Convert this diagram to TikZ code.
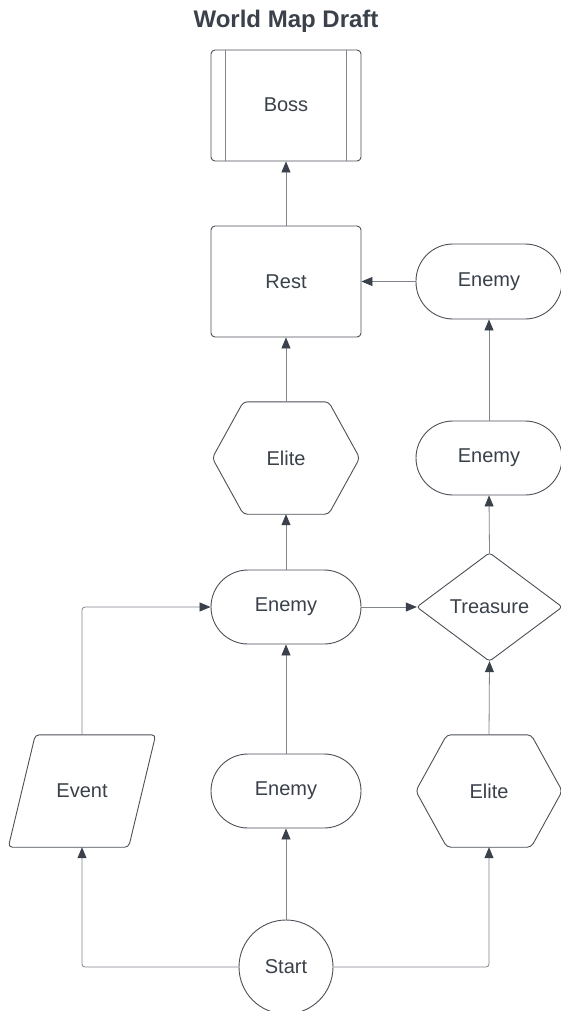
\documentclass[tikz,border=0pt]{standalone}
\usepackage{fontspec}
\setmainfont{Liberation Sans}
\usetikzlibrary{arrows.meta}
\definecolor{txt}{HTML}{3A414A}
\definecolor{bord}{HTML}{4B5058}
\definecolor{conn}{HTML}{80858C}
\begin{document}
\begin{tikzpicture}[x=1pt,y=-1pt,
  lbl/.style={inner sep=0pt, font=\fontsize{20}{24}\selectfont, text=txt},
  procbox/.style={lbl, draw=bord, line width=0.9pt, rounded corners=4pt, minimum width=150pt, minimum height=111pt},
  stadium/.style={lbl, draw=bord, line width=0.9pt, rounded corners=37pt, minimum height=74pt},
  hidden/.style={lbl},
  outline/.style={draw=bord, line width=0.9pt, rounded corners=4pt},
  arr/.style={draw=conn, line width=0.8pt, rounded corners=3pt, -{Triangle[length=11pt,width=9pt,color=txt]}}]
\useasboundingbox (0,0) rectangle (561,1011);
\fill[white] (0,0) rectangle (561,1011);

\node[font=\bfseries\fontsize{24}{28}\selectfont, text=txt] (title) at (286,21) {World Map Draft};

% Boss
\node[procbox] (boss) at (286,105.5) {\raisebox{2pt}{Boss}};
\draw[draw=conn, line width=0.6pt] ([xshift=15pt]boss.north west) -- ([xshift=15pt]boss.south west);
\draw[draw=conn, line width=0.6pt] ([xshift=-15pt]boss.north east) -- ([xshift=-15pt]boss.south east);

% Rest
\node[procbox] (rest) at (286,281.5) {Rest};

% Enemies
\node[stadium, minimum width=146pt, minimum height=75pt] (enemyTR) at (489,281.5) {Enemy};
\node[stadium, minimum width=146pt] (enemyRM) at (489,458) {Enemy};
\node[stadium, minimum width=150pt] (enemyM) at (286,607) {Enemy};
\node[stadium, minimum width=150pt] (enemyB) at (286,791) {Enemy};

% Elite middle (hexagon)
\node[hidden, minimum width=147pt, minimum height=112pt] (eliteM) at (286,458) {Elite};
\draw[outline] ([xshift=31pt]eliteM.north west) -- ([xshift=-31pt]eliteM.north east) -- (eliteM.east) -- ([xshift=-31pt]eliteM.south east) -- ([xshift=31pt]eliteM.south west) -- (eliteM.west) -- cycle;

% Elite bottom (hexagon)
\node[hidden, minimum width=146pt, minimum height=112pt] (eliteB) at (489,791) {Elite};
\draw[outline] ([xshift=31pt]eliteB.north west) -- ([xshift=-31pt]eliteB.north east) -- (eliteB.east) -- ([xshift=-31pt]eliteB.south east) -- ([xshift=31pt]eliteB.south west) -- (eliteB.west) -- cycle;

% Treasure (diamond)
\node[hidden, minimum width=145pt, minimum height=108pt] (treasure) at (489.5,607) {Treasure};
\draw[outline, rounded corners=3pt] (treasure.north) -- (treasure.east) -- (treasure.south) -- (treasure.west) -- cycle;

% Event (parallelogram)
\node[hidden, minimum width=147pt, minimum height=112pt] (event) at (82,791) {Event};
\draw[outline] ([xshift=27pt]event.north west) -- (event.north east) -- ([xshift=-27pt]event.south east) -- (event.south west) -- cycle;

% Start
\node[lbl, draw=bord, line width=0.9pt, circle, minimum size=94pt] (start) at (286,967) {Start};

% Connectors
\draw[arr] (start.west) -| (event.south);
\draw[arr] (start.east) -| (eliteB.south);
\draw[arr] (start.north) -- (enemyB.south);
\draw[arr] (enemyB.north) -- (enemyM.south);
\draw[arr] (event.north) |- (enemyM.west);
\draw[arr] (enemyM.east) -- (treasure.west);
\draw[arr] (eliteB.north) -- (treasure.south);
\draw[arr] (treasure.north) -- (enemyRM.south);
\draw[arr] (enemyRM.north) -- (enemyTR.south);
\draw[arr] (enemyTR.west) -- (rest.east);
\draw[arr] (enemyM.north) -- (eliteM.south);
\draw[arr] (eliteM.north) -- (rest.south);
\draw[arr] (rest.north) -- (boss.south);
\end{tikzpicture}
\end{document}
